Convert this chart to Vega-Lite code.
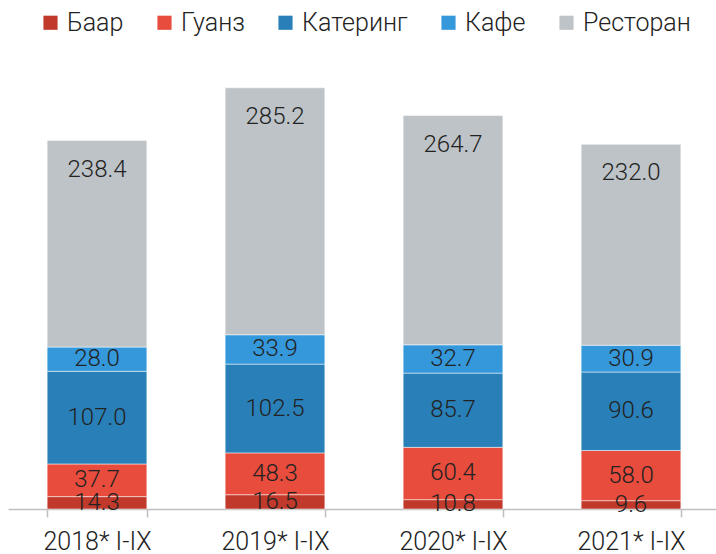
{
  "$schema": "https://vega.github.io/schema/vega-lite/v6.json",
  "autosize": {"type": "none"},
  "width": 712,
  "height": 433,
  "padding": {"left": 8, "top": 76, "right": 0, "bottom": 45},
  "background": "white",
  "config": {
    "view": {"stroke": null},
    "font": "Roboto",
    "legend": {"layout": {"top": {"anchor": "middle"}}}
  },
  "data": {
    "values": [
      {"year": "2018* I-IX", "type": "Баар", "v": 14.3},
      {"year": "2018* I-IX", "type": "Гуанз", "v": 37.7},
      {"year": "2018* I-IX", "type": "Катеринг", "v": 107.0},
      {"year": "2018* I-IX", "type": "Кафе", "v": 28.0},
      {"year": "2018* I-IX", "type": "Ресторан", "v": 238.4},
      {"year": "2019* I-IX", "type": "Баар", "v": 16.5},
      {"year": "2019* I-IX", "type": "Гуанз", "v": 48.3},
      {"year": "2019* I-IX", "type": "Катеринг", "v": 102.5},
      {"year": "2019* I-IX", "type": "Кафе", "v": 33.9},
      {"year": "2019* I-IX", "type": "Ресторан", "v": 285.2},
      {"year": "2020* I-IX", "type": "Баар", "v": 10.8},
      {"year": "2020* I-IX", "type": "Гуанз", "v": 60.4},
      {"year": "2020* I-IX", "type": "Катеринг", "v": 85.7},
      {"year": "2020* I-IX", "type": "Кафе", "v": 32.7},
      {"year": "2020* I-IX", "type": "Ресторан", "v": 264.7},
      {"year": "2021* I-IX", "type": "Баар", "v": 9.6},
      {"year": "2021* I-IX", "type": "Гуанз", "v": 58.0},
      {"year": "2021* I-IX", "type": "Катеринг", "v": 90.6},
      {"year": "2021* I-IX", "type": "Кафе", "v": 30.9},
      {"year": "2021* I-IX", "type": "Ресторан", "v": 232.0}
    ]
  },
  "encoding": {
    "x": {
      "field": "year", "type": "nominal", "title": null,
      "scale": {"paddingInner": 0.44, "paddingOuter": 0.22},
      "axis": {
        "labelAngle": 0, "labelFontSize": 25, "labelFontWeight": 300, "labelColor": "#222222",
        "labelPadding": 12, "tickBand": "extent", "tickSize": 8,
        "tickColor": "#bfbfbf", "domainColor": "#bfbfbf", "domainWidth": 1.5, "tickWidth": 1.5
      }
    },
    "y": {
      "field": "v", "type": "quantitative", "stack": "zero",
      "scale": {"domain": [0, 500]}, "axis": null
    }
  },
  "layer": [
    {
      "mark": {"type": "bar", "stroke": "white", "strokeWidth": 0.5},
      "encoding": {
        "color": {
          "field": "type", "type": "nominal",
          "sort": ["Баар", "Гуанз", "Катеринг", "Кафе", "Ресторан"],
          "scale": {
            "domain": ["Баар", "Гуанз", "Катеринг", "Кафе", "Ресторан"],
            "range": ["#c0392b", "#e74c3c", "#2980b9", "#3498db", "#bdc3c7"]
          },
          "legend": {
            "title": null, "orient": "top", "direction": "horizontal",
            "symbolType": "square", "symbolSize": 200, "symbolStrokeWidth": 0,
            "labelFontSize": 25, "labelFontWeight": 300, "labelColor": "#222222", "columnPadding": 28,
            "offset": 40, "labelOffset": 4
          }
        },
        "order": {"field": "type", "sort": "ascending"}
      }
    },
    {
      "mark": {"type": "text", "fontSize": 24, "fontWeight": 300, "color": "#222222", "baseline": "middle"},
      "encoding": {
        "y": {"field": "v", "type": "quantitative", "stack": "zero", "bandPosition": 0.5},
        "text": {"condition": {"test": "datum.type !== 'Ресторан'", "field": "v", "type": "quantitative", "format": ".1f"}, "value": ""},
        "detail": {"field": "type"},
        "order": {"field": "type", "sort": "ascending"}
      }
    },
    {
      "mark": {"type": "text", "fontSize": 24, "fontWeight": 300, "color": "#222222", "baseline": "middle", "dy": 29},
      "encoding": {
        "y": {"field": "v", "type": "quantitative", "stack": "zero"},
        "text": {"condition": {"test": "datum.type === 'Ресторан'", "field": "v", "type": "quantitative", "format": ".1f"}, "value": ""},
        "detail": {"field": "type"},
        "order": {"field": "type", "sort": "ascending"}
      }
    }
  ]
}
